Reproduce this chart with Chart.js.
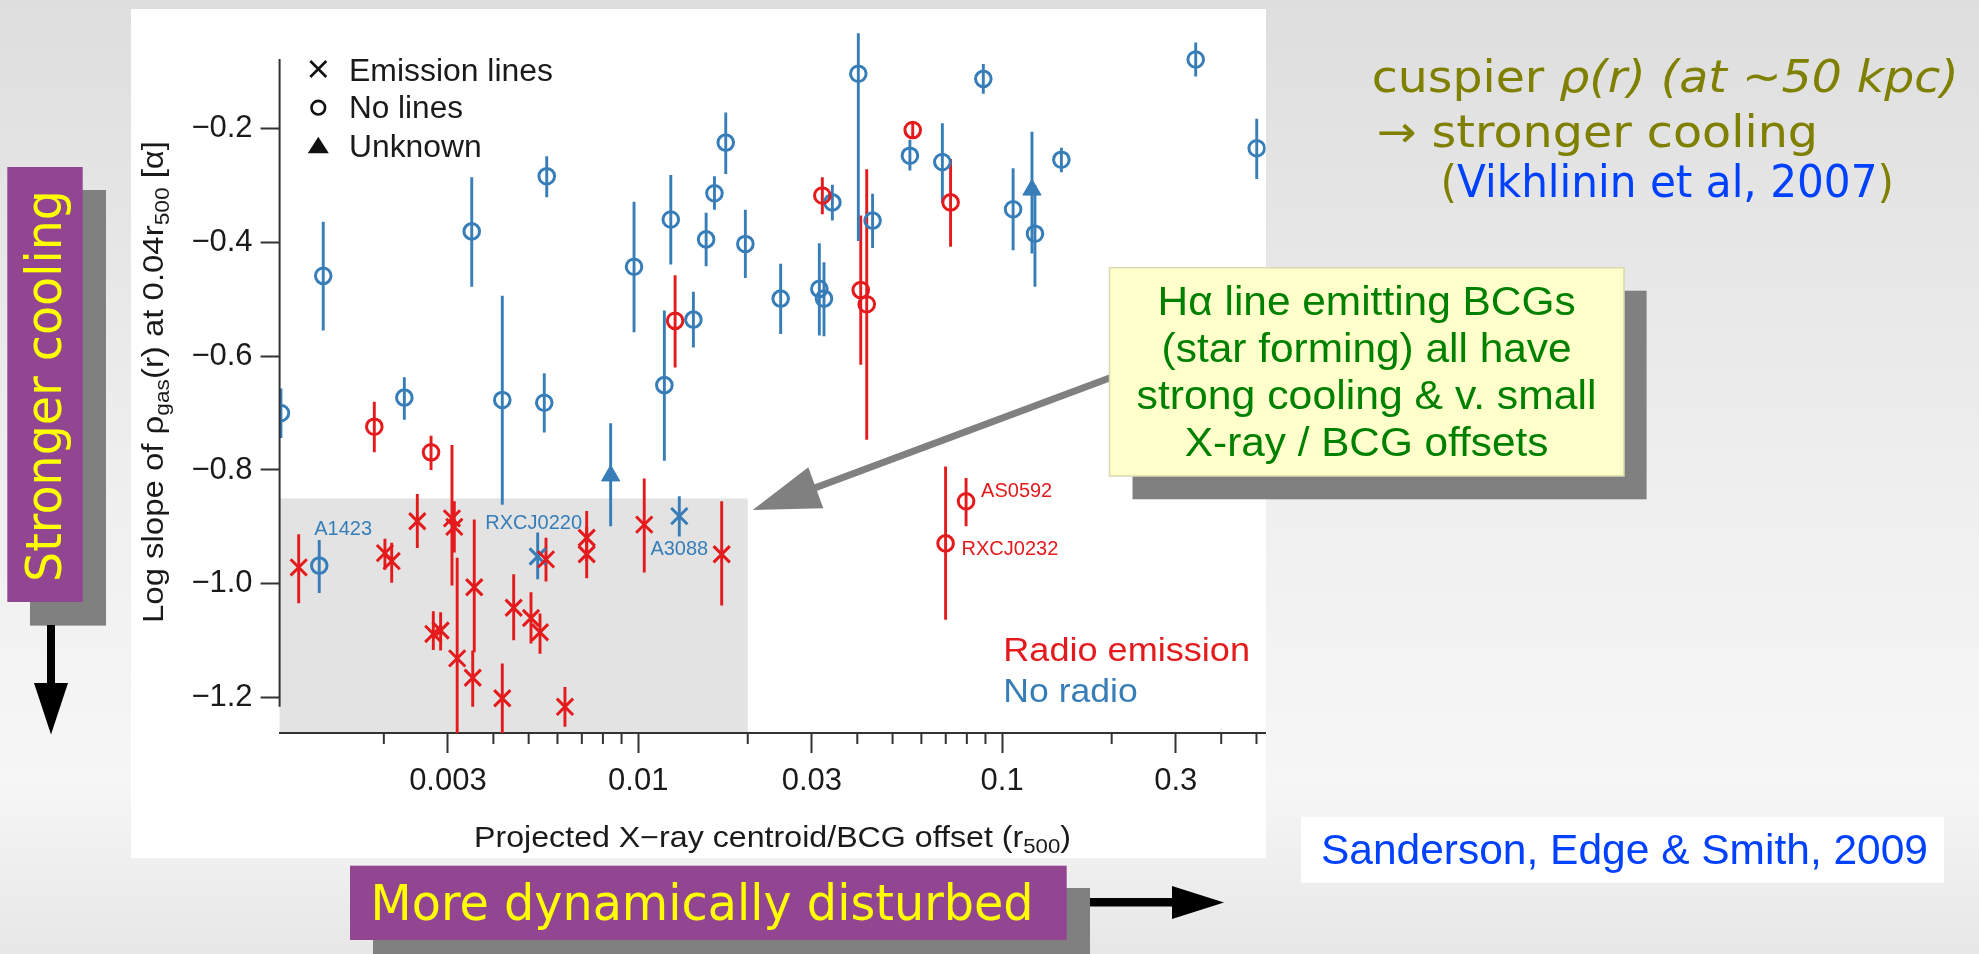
<!DOCTYPE html>
<html>
<head>
<meta charset="utf-8">
<script src="https://cdn.jsdelivr.net/npm/chart.js@4.4.1/dist/chart.umd.min.js"></script>
<style>
  html, body { margin: 0; padding: 0; overflow: hidden; background: #e8e8e8; }
  canvas { display: block; }
</style>
</head>
<body>
<canvas id="c" width="1979" height="954"></canvas>
<script>
// Each row: [X-ray/BCG offset (r500), log slope alpha, lower error limit, upper error limit]
const radioEmissionLines = [
  [0.001167, -0.971, -1.034, -0.913],
  [0.002014, -0.946, -0.975, -0.921],
  [0.002102, -0.960, -0.998, -0.928],
  [0.002472, -0.890, -0.937, -0.842],
  [0.002735, -1.088, -1.116, -1.048],
  [0.002865, -1.082, -1.117, -1.050],
  [0.003078, -0.885, -1.003, -0.756],
  [0.003124, -0.900, -0.945, -0.855],
  [0.003181, -1.131, -1.300, -0.954],
  [0.003544, -1.006, -1.120, -0.887],
  [0.003510, -1.165, -1.216, -1.117],
  [0.004232, -1.201, -1.300, -1.140],
  [0.004548, -1.042, -1.099, -0.983],
  [0.005075, -1.060, -1.105, -1.015],
  [0.005373, -1.085, -1.123, -1.052],
  [0.005580, -0.957, -0.996, -0.919],
  [0.006291, -1.216, -1.251, -1.181],
  [0.007219, -0.919, -0.960, -0.872],
  [0.007219, -0.948, -0.990, -0.900],
  [0.010390, -0.896, -0.980, -0.815],
  [0.016960, -0.948, -1.038, -0.855]
];
const radioNoLines = [
  [0.001883, -0.724, -0.769, -0.680],
  [0.002696, -0.769, -0.800, -0.740],
  [0.012630, -0.538, -0.620, -0.458],
  [0.032060, -0.318, -0.351, -0.286],
  [0.040880, -0.484, -0.615, -0.353],
  [0.042460, -0.509, -0.747, -0.272],
  [0.056800, -0.203, -0.216, -0.190],
  [0.072180, -0.330, -0.408, -0.254],
  [0.069930, -0.929, -1.063, -0.794],
  [0.079610, -0.855, -0.899, -0.814]
];
const quietEmissionLines = [
  [0.005294, -0.952, -0.992, -0.910],
  [0.012970, -0.881, -0.917, -0.846]
];
const quietNoLines = [
  [0.001043, -0.700, -0.744, -0.657],
  [0.001329, -0.968, -1.016, -0.923],
  [0.001363, -0.459, -0.555, -0.364],
  [0.002277, -0.673, -0.712, -0.637],
  [0.003488, -0.381, -0.478, -0.286],
  [0.004232, -0.677, -0.861, -0.494],
  [0.005519, -0.682, -0.734, -0.630],
  [0.005606, -0.284, -0.321, -0.249],
  [0.009740, -0.443, -0.558, -0.329],
  [0.011800, -0.651, -0.784, -0.520],
  [0.012290, -0.360, -0.439, -0.282],
  [0.014180, -0.536, -0.585, -0.487],
  [0.015370, -0.395, -0.442, -0.348],
  [0.016200, -0.314, -0.343, -0.284],
  [0.017400, -0.225, -0.280, -0.172],
  [0.019700, -0.403, -0.463, -0.343],
  [0.024630, -0.499, -0.561, -0.438],
  [0.031460, -0.482, -0.564, -0.402],
  [0.032400, -0.499, -0.565, -0.435],
  [0.034160, -0.330, -0.362, -0.299],
  [0.040260, -0.104, -0.398, -0.033],
  [0.044060, -0.362, -0.410, -0.315],
  [0.055800, -0.248, -0.274, -0.220],
  [0.068520, -0.259, -0.331, -0.191],
  [0.088780, -0.113, -0.139, -0.087],
  [0.107200, -0.342, -0.414, -0.270],
  [0.123100, -0.385, -0.478, -0.300],
  [0.145500, -0.255, -0.277, -0.234],
  [0.340400, -0.079, -0.109, -0.049],
  [0.500800, -0.235, -0.289, -0.183]
];
const quietUnknown = [
  [0.008400, -0.810, -0.899, -0.718],
  [0.120800, -0.308, -0.420, -0.206]
];

// Clusters named on the plot
const namedClusters = [
  { name: 'A1423',    x: 0.001329, y: -0.968, radio: false },
  { name: 'RXCJ0220', x: 0.005294, y: -0.952, radio: false },
  { name: 'A3088',    x: 0.012970, y: -0.881, radio: false },
  { name: 'AS0592',   x: 0.079610, y: -0.855, radio: true },
  { name: 'RXCJ0232', x: 0.069930, y: -0.929, radio: true }
];

// Axis ticks
const xMajorTicks = [0.003, 0.01, 0.03, 0.1, 0.3];
const xTickLabels = ['0.003', '0.01', '0.03', '0.1', '0.3'];
const xMinorTicks = [0.002, 0.004, 0.005, 0.006, 0.007, 0.008, 0.009,
                     0.02, 0.04, 0.05, 0.06, 0.07, 0.08, 0.09, 0.2, 0.4, 0.5];
const yTicks = [-1.2, -1.0, -0.8, -0.6, -0.4, -0.2];
const yTickLabels = ['−1.2', '−1.0', '−0.8', '−0.6', '−0.4', '−0.2'];

// Strong-cooling / small-offset region
const coolRegionOffsetMax = 0.02;
const coolRegionSlopeMax = -0.85;

// ---------------- styling ----------------
const RED = '#e41a1c', BLUE = '#377eb8', INK = '#1a1a1a';
const SANS = '"Liberation Sans", Arial, Helvetica, sans-serif';
const DEJAVU = '"DejaVu Sans", "Liberation Sans", sans-serif';
const font = (size, italic, fam) => `${italic ? 'italic ' : ''}${size}px ${fam || SANS}`;

const labelPlacement = {
  A1423:    { dx: -5,  dy: -31, align: 'left' },
  RXCJ0220: { dx: -4,  dy: -28, align: 'center' },
  A3088:    { dx: 0,   dy: 39,  align: 'center' },
  AS0592:   { dx: 15,  dy: -4,  align: 'left' },
  RXCJ0232: { dx: 16,  dy: 12,  align: 'left' }
};

// Draw a run of text pieces (mixed fonts/colours), optionally squeezed to a given width
function drawRuns(ctx, runs, x, y, opt) {
  opt = opt || {};
  ctx.save();
  ctx.translate(x, y);
  if (opt.rotate) ctx.rotate(opt.rotate);
  let total = 0;
  const widths = runs.map(r => { ctx.font = r.font; const w = ctx.measureText(r.text).width; total += w; return w; });
  const sx = opt.width ? opt.width / total : 1;
  const align = opt.align || 'left';
  ctx.scale(sx, 1);
  let cx = align === 'center' ? -total / 2 : align === 'right' ? -total : 0;
  ctx.textAlign = 'left';
  ctx.textBaseline = 'alphabetic';
  runs.forEach((r, i) => {
    ctx.font = r.font;
    ctx.fillStyle = r.color || opt.color || INK;
    ctx.fillText(r.text, cx, r.dy || 0);
    cx += widths[i];
  });
  ctx.restore();
}

function rect(ctx, x0, y0, x1, y1, color) {
  ctx.fillStyle = color;
  ctx.fillRect(x0, y0, x1 - x0, y1 - y0);
}

function poly(ctx, pts, color) {
  ctx.beginPath();
  ctx.moveTo(pts[0][0], pts[0][1]);
  for (let i = 1; i < pts.length; i++) ctx.lineTo(pts[i][0], pts[i][1]);
  ctx.closePath();
  ctx.fillStyle = color;
  ctx.fill();
}

const slidePlugin = {
  id: 'slide',
  beforeDraw(chart) {
    const { ctx, chartArea: a, scales: { x, y } } = chart;
    ctx.save();
    const g = ctx.createLinearGradient(0, 0, 0, chart.height);
    g.addColorStop(0, '#dedede');
    g.addColorStop(0.55, '#f0f0f0');
    g.addColorStop(0.82, '#f6f6f6');
    g.addColorStop(1, '#e7e7e7');
    ctx.fillStyle = g;
    ctx.fillRect(0, 0, chart.width, chart.height);
    // figure panel
    rect(ctx, 131, 9, 1266, 858, '#ffffff');
    // shaded strong-cooling region
    const xr = x.getPixelForValue(coolRegionOffsetMax);
    const yt = y.getPixelForValue(coolRegionSlopeMax);
    rect(ctx, a.left, yt, xr, a.bottom, '#e3e3e3');
    ctx.restore();
  },
  beforeDatasetsDraw(chart) {
    const { ctx, chartArea: a, scales: { y } } = chart;
    ctx.save();
    ctx.beginPath();
    ctx.rect(a.left, a.top, a.right - a.left, a.bottom - a.top);
    ctx.clip();
    ctx.lineWidth = 2.9;
    ctx.lineCap = 'butt';
    chart.data.datasets.forEach((ds, i) => {
      const meta = chart.getDatasetMeta(i);
      ctx.strokeStyle = ds.errorColor;
      ds.data.forEach((p, j) => {
        const px = meta.data[j].x;
        ctx.beginPath();
        ctx.moveTo(px, y.getPixelForValue(p.hi));
        ctx.lineTo(px, y.getPixelForValue(p.lo));
        ctx.stroke();
      });
    });
    ctx.restore();
  },
  afterDraw(chart) {
    const { ctx, chartArea: a, scales: { x, y } } = chart;
    ctx.save();

    // y axis line
    ctx.strokeStyle = '#333';
    ctx.lineWidth = 2;
    ctx.beginPath();
    ctx.moveTo(a.left, y.getPixelForValue(-0.078));
    ctx.lineTo(a.left, y.getPixelForValue(-1.216));
    ctx.stroke();

    // minor ticks on the log axis
    xMinorTicks.forEach(v => {
      const px = x.getPixelForValue(v);
      ctx.beginPath();
      ctx.moveTo(px, a.bottom);
      ctx.lineTo(px, a.bottom + 11);
      ctx.stroke();
    });

    // cluster names
    namedClusters.forEach(c => {
      const p = labelPlacement[c.name];
      ctx.font = font(20);
      ctx.fillStyle = c.radio ? RED : BLUE;
      ctx.textAlign = p.align;
      ctx.textBaseline = 'alphabetic';
      ctx.fillText(c.name, x.getPixelForValue(c.x) + p.dx, y.getPixelForValue(c.y) + p.dy);
    });

    // symbol key
    ctx.strokeStyle = '#111';
    ctx.fillStyle = '#111';
    ctx.lineWidth = 2.6;
    const kx = 318.3;
    ctx.beginPath();
    ctx.moveTo(kx - 8, 61); ctx.lineTo(kx + 8, 77);
    ctx.moveTo(kx + 8, 61); ctx.lineTo(kx - 8, 77);
    ctx.stroke();
    ctx.beginPath();
    ctx.arc(kx, 107.7, 6.8, 0, Math.PI * 2);
    ctx.stroke();
    poly(ctx, [[kx, 136.7], [kx + 10.5, 153.3], [kx - 10.5, 153.3]], '#111');
    drawRuns(ctx, [{ text: 'Emission lines', font: font(31) }], 349, 80.7, { width: 204, color: INK });
    drawRuns(ctx, [{ text: 'No lines', font: font(31) }], 349, 118.3, { width: 114, color: INK });
    drawRuns(ctx, [{ text: 'Unknown', font: font(31) }], 349, 157.3, { width: 132.7, color: INK });

    // colour key
    drawRuns(ctx, [{ text: 'Radio emission', font: font(34), color: RED }], 1003.3, 660.7, { width: 246.7 });
    drawRuns(ctx, [{ text: 'No radio', font: font(34), color: BLUE }], 1003.3, 702.3, { width: 134.4 });

    // axis titles
    drawRuns(ctx, [
      { text: 'Log slope of ', font: font(29) },
      { text: 'ρ', font: font(29) },
      { text: 'gas', font: font(20), dy: 6 },
      { text: '(r) at 0.04r', font: font(29) },
      { text: '500', font: font(20), dy: 6 },
      { text: ' [α]', font: font(29) }
    ], 163, 382, { align: 'center', width: 482, rotate: -Math.PI / 2, color: INK });
    drawRuns(ctx, [
      { text: 'Projected X−ray centroid/BCG offset (r', font: font(29) },
      { text: '500', font: font(20), dy: 6 },
      { text: ')', font: font(29) }
    ], 474, 846.7, { width: 597, color: INK });

    // "Stronger cooling" tag with arrow
    rect(ctx, 30, 190, 106, 625.6, '#808080');
    rect(ctx, 7.3, 167, 82.7, 602, '#924692');
    drawRuns(ctx, [{ text: 'Stronger cooling', font: font(50, false, DEJAVU), color: '#ffff00' }],
      61, 386, { align: 'center', width: 392, rotate: -Math.PI / 2 });
    rect(ctx, 47, 625, 55, 685, '#000');
    poly(ctx, [[34, 683], [68, 683], [51, 734.5]], '#000');

    // "More dynamically disturbed" tag with arrow
    rect(ctx, 373, 888, 1090, 954, '#808080');
    rect(ctx, 350, 865.7, 1066.7, 940, '#924692');
    drawRuns(ctx, [{ text: 'More dynamically disturbed', font: font(50, false, DEJAVU), color: '#ffff00' }],
      370.6, 920, { width: 663 });
    rect(ctx, 1090, 898, 1174, 906.5, '#000');
    poly(ctx, [[1172, 886], [1172, 919], [1224, 902.5]], '#000');

    // cuspier profile note
    const OLIVE = '#808000', LINK = '#0040ff';
    drawRuns(ctx, [
      { text: 'cuspier ', font: font(44, false, DEJAVU), color: OLIVE },
      { text: 'ρ(r) (at ~50 kpc)', font: font(44, true, DEJAVU), color: OLIVE }
    ], 1371.8, 91.7, { width: 587 });
    drawRuns(ctx, [{ text: '→ stronger cooling', font: font(44, false, DEJAVU), color: OLIVE }],
      1376.5, 146.7, { width: 441.5 });
    drawRuns(ctx, [
      { text: '(', font: font(44, false, DEJAVU), color: OLIVE },
      { text: 'Vikhlinin et al, 2007', font: font(44, false, DEJAVU), color: LINK },
      { text: ')', font: font(44, false, DEJAVU), color: OLIVE }
    ], 1440.6, 196.7, { width: 453.4 });

    // pointer from the callout to the shaded region
    ctx.strokeStyle = '#808080';
    ctx.lineWidth = 7;
    ctx.beginPath();
    ctx.moveTo(1115, 376);
    ctx.lineTo(812, 489);
    ctx.stroke();
    poly(ctx, [[752.7, 510], [808.3, 467.3], [823.3, 508.3]], '#808080');

    // callout
    rect(ctx, 1132.5, 290.7, 1646.6, 499.3, '#808080');
    rect(ctx, 1109.5, 267.7, 1624, 476, '#ffffcc');
    ctx.strokeStyle = '#d9d9b0';
    ctx.lineWidth = 1.5;
    ctx.strokeRect(1109.5, 267.7, 514.5, 208.3);
    const GREEN = '#008000';
    const calloutLines = [
      ['Hα line emitting BCGs', 418, 315],
      ['(star forming) all have', 410, 361.7],
      ['strong cooling & v. small', 460, 409],
      ['X-ray / BCG offsets', 363.5, 456]
    ];
    calloutLines.forEach(l => drawRuns(ctx, [{ text: l[0], font: font(41), color: GREEN }],
      1366.6, l[2], { align: 'center', width: l[1] }));

    // reference
    rect(ctx, 1301, 816.7, 1944, 882.7, '#ffffff');
    drawRuns(ctx, [{ text: 'Sanderson, Edge & Smith, 2009', font: font(42), color: LINK }],
      1321, 864, { width: 607 });

    ctx.restore();
  }
};

const toPoints = rows => rows.map(r => ({ x: r[0], y: r[1], lo: r[2], hi: r[3] }));

function markerSet(label, rows, color, style) {
  const base = {
    label, data: toPoints(rows), showLine: false, errorColor: color,
    borderColor: color, pointBorderColor: color
  };
  if (style === 'cross') {
    return Object.assign(base, { pointStyle: 'crossRot', pointRadius: 11.5, pointBorderWidth: 3,
      pointBackgroundColor: color, borderWidth: 3 });
  }
  if (style === 'circle') {
    return Object.assign(base, { pointStyle: 'circle', pointRadius: 7.8, pointBorderWidth: 3,
      pointBackgroundColor: 'rgba(0,0,0,0)', borderWidth: 3 });
  }
  return Object.assign(base, { pointStyle: 'triangle', pointRadius: 10.5, pointBorderWidth: 1,
    pointBackgroundColor: color, borderWidth: 1 });
}

new Chart(document.getElementById('c'), {
  type: 'scatter',
  data: {
    datasets: [
      markerSet('Radio, emission lines', radioEmissionLines, RED, 'cross'),
      markerSet('Radio, no lines', radioNoLines, RED, 'circle'),
      markerSet('No radio, emission lines', quietEmissionLines, BLUE, 'cross'),
      markerSet('No radio, no lines', quietNoLines, BLUE, 'circle'),
      markerSet('No radio, unknown', quietUnknown, BLUE, 'triangle')
    ]
  },
  options: {
    responsive: false,
    animation: false,
    devicePixelRatio: 1,
    events: [],
    layout: { padding: { left: 0, top: 10.5, right: 713.4, bottom: 0 } },
    plugins: { legend: { display: false }, tooltip: { enabled: false } },
    scales: {
      x: {
        type: 'logarithmic',
        position: 'bottom',
        min: 0.0010342,
        max: 0.5297,
        afterBuildTicks: s => { s.ticks = xMajorTicks.map(v => ({ value: v })); },
        afterFit: s => { s.height = 221; s.paddingLeft = 0; s.paddingRight = 0; },
        ticks: {
          callback: (v, i) => xTickLabels[i],
          autoSkip: false, maxRotation: 0, minRotation: 0,
          font: { family: SANS, size: 31 }, color: INK, padding: 10
        },
        grid: { drawOnChartArea: false, drawTicks: true, tickLength: 20, tickWidth: 2, tickColor: '#333' },
        border: { display: true, color: '#333', width: 2 }
      },
      y: {
        type: 'linear',
        position: 'left',
        min: -1.262,
        max: 0,
        afterBuildTicks: s => { s.ticks = yTicks.map(v => ({ value: v })); },
        afterFit: s => { s.width = 279.6; s.paddingTop = 0; s.paddingBottom = 0; },
        ticks: {
          callback: (v, i) => yTickLabels[i],
          autoSkip: false,
          font: { family: SANS, size: 31 }, color: INK, padding: 8
        },
        grid: { drawOnChartArea: false, drawTicks: true, tickLength: 19, tickWidth: 2, tickColor: '#333' },
        border: { display: false }
      }
    }
  },
  plugins: [slidePlugin]
});
</script>
</body>
</html>
